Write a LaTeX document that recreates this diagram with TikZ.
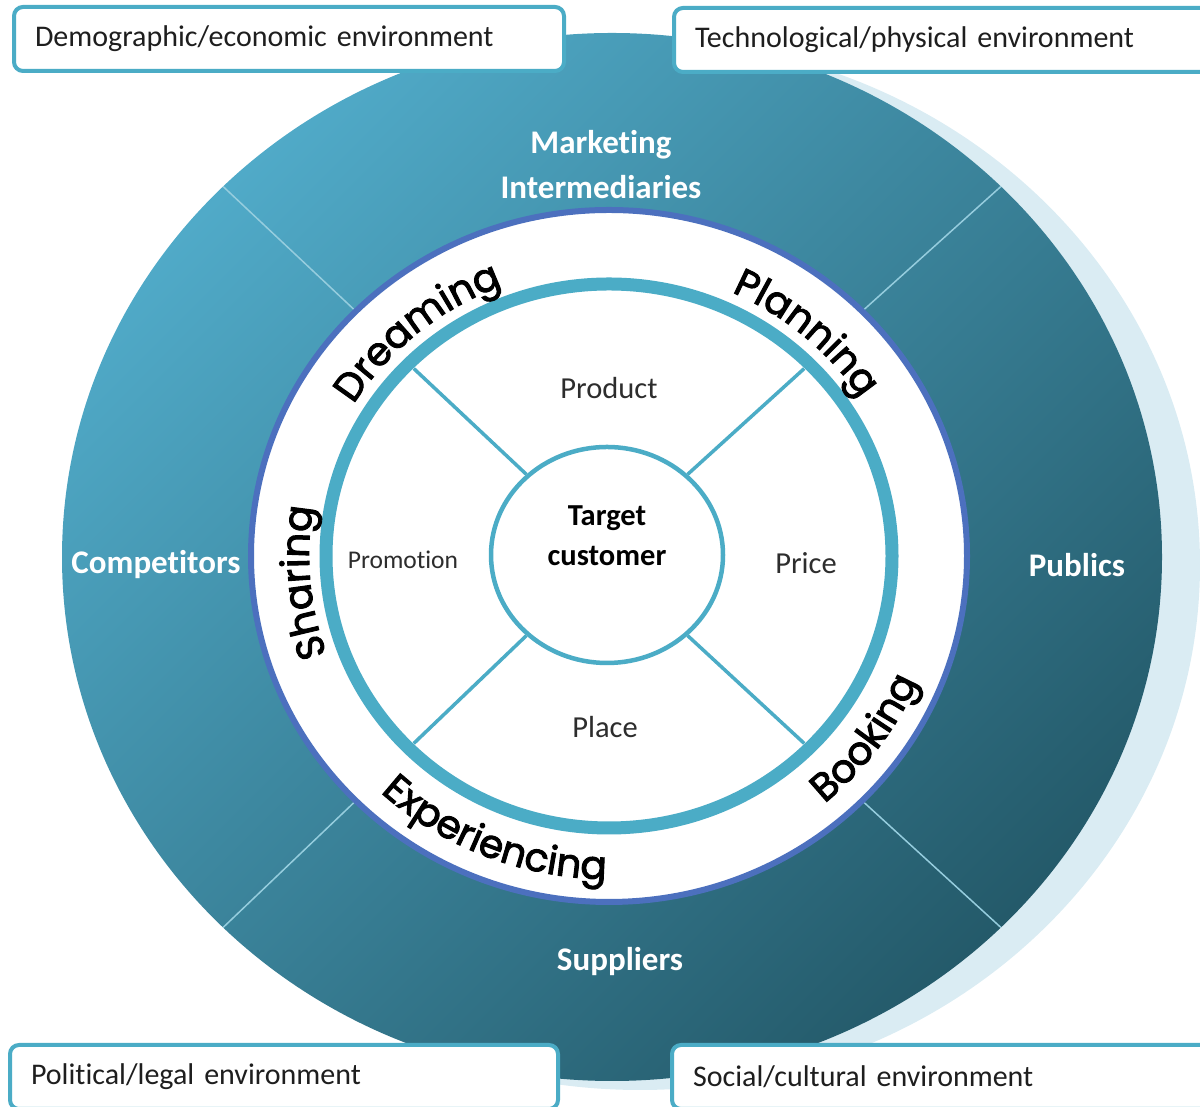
\documentclass[tikz,border=0pt]{standalone}
\usepackage{fontspec}
\setmainfont{Carlito}[Ligatures={NoCommon}]
\newfontfamily\curvefont{Poppins}[FakeBold=2.5]
\usetikzlibrary{shapes.geometric,decorations.text}
\definecolor{tealring}{RGB}{75,172,198}
\definecolor{shadowc}{RGB}{218,236,243}
\definecolor{topc}{RGB}{80,170,200}
\definecolor{botc}{RGB}{36,90,106}
\definecolor{bordblue}{RGB}{76,112,190}
\definecolor{divc}{RGB}{150,205,222}
\definecolor{txt}{RGB}{30,30,30}
\definecolor{txtb}{RGB}{45,45,45}
\newcommand{\curvetext}{\curvefont\fontsize{39}{39}\selectfont}
\begin{document}
\begin{tikzpicture}[x=1pt,y=1pt,
 envbox/.style={draw=tealring, line width=4pt, fill=white, rounded corners=9pt, minimum height=64pt, inner xsep=21pt, anchor=west, align=left, font=\fontsize{30}{34}\selectfont, text=txt},
 outerlabel/.style={font=\bfseries\fontsize{33}{45}\selectfont, text=white, align=center},
 innerlabel/.style={font=\fontsize{30.5}{34}\selectfont, text=txtb},
 spoke/.style={draw=tealring, line width=3.5pt},
 divider/.style={draw=divc, line width=1.5pt},
 curve/.style={decorate, decoration={text along path, text align=center, text color=black}}
]
\useasboundingbox (0,0) rectangle (1200,1107);
\clip (0,0) rectangle (1200,1107);

% shadow and outer gradient disk
\fill[shadowc] (640,542) ellipse [x radius=560, y radius=525];
\shade[top color=topc, bottom color=botc, shading angle=45] (612,550) ellipse [x radius=550, y radius=524];

% divider lines in the outer ring
\coordinate (o135) at (223.1,920.5);
\coordinate (i135) at (355.9,795.7);
\coordinate (o45) at (1000.9,920.5);
\coordinate (i45) at (862.1,795.7);
\coordinate (o225) at (223.1,179.5);
\coordinate (i225) at (355.9,306.3);
\coordinate (o315) at (1000.9,179.5);
\coordinate (i315) at (862.1,306.3);
\draw[divider] (o135) -- (i135);
\draw[divider] (o45) -- (i45);
\draw[divider] (o225) -- (i225);
\draw[divider] (o315) -- (i315);

% white disk with blue border
\draw[bordblue, line width=6pt, fill=white] (609,551) ellipse [x radius=358, y radius=346];
% teal ring
\draw[tealring, line width=13pt] (609,551) ellipse [x radius=283, y radius=272];

% center circle
\node[ellipse, draw=tealring, line width=4.5pt, minimum width=232pt, minimum height=216pt, inner sep=0pt] (tc) at (607,552) {};
\node[font=\bfseries\fontsize{30.5}{40}\selectfont, align=center, text=black] (tct) at (607,571) {Target\\customer};

% spokes
\coordinate (r135) at (413.8,738.4);
\coordinate (r45) at (804.2,738.4);
\coordinate (r225) at (413.8,363.6);
\coordinate (r315) at (804.2,363.6);
\draw[spoke] (tc.135) -- (r135);
\draw[spoke] (tc.45) -- (r45);
\draw[spoke] (tc.225) -- (r225);
\draw[spoke] (tc.315) -- (r315);

% inner labels
\node[innerlabel] (prod) at (609,719) {Product};
\node[innerlabel] (price) at (806,544) {Price};
\node[innerlabel] (place) at (605,380) {Place};
\node[innerlabel, font=\fontsize{25.5}{30}\selectfont] (promo) at (403,547) {Promotion};

% curved stage labels
\path[curve, decoration={text={|\curvetext|Dreaming}}] (609,551) ++(175:300 and 289) arc[start angle=175, end angle=85, x radius=300, y radius=289];
\path[curve, decoration={text={|\curvetext|Planning}}] (609,551) ++(94:300 and 289) arc[start angle=94, end angle=4, x radius=300, y radius=289];
\path[curve, decoration={text={|\curvetext|Sharing}}] (609,551) ++(230:300 and 289) arc[start angle=230, end angle=140, x radius=300, y radius=289];
\path[curve, decoration={text={|\curvetext|Experiencing}}] (609,551) ++(203:335 and 323) arc[start angle=203, end angle=293, x radius=335, y radius=323];
\path[curve, decoration={text={|\curvetext|Booking}}] (609,551) ++(279:335 and 323) arc[start angle=279, end angle=369, x radius=335, y radius=323];

% outer labels
\node[outerlabel] (mi) at (601,942) {Marketing\\Intermediaries};
\node[outerlabel] (comp) at (156,542) {Competitors};
\node[outerlabel] (pub) at (1077,542) {Publics};
\node[outerlabel] (sup) at (620,145) {Suppliers};

% environment boxes
\node[envbox, text width=508pt] (b1) at (12,1068) {Demographic/economic environment};
\node[envbox, text width=501pt] (b2) at (672,1067) {Technological/physical environment};
\node[envbox, text width=506pt] (b3) at (8,30) {Political/legal environment};
\node[envbox, text width=503pt] (b4) at (670,30) {Social/cultural environment};
\end{tikzpicture}
\end{document}
